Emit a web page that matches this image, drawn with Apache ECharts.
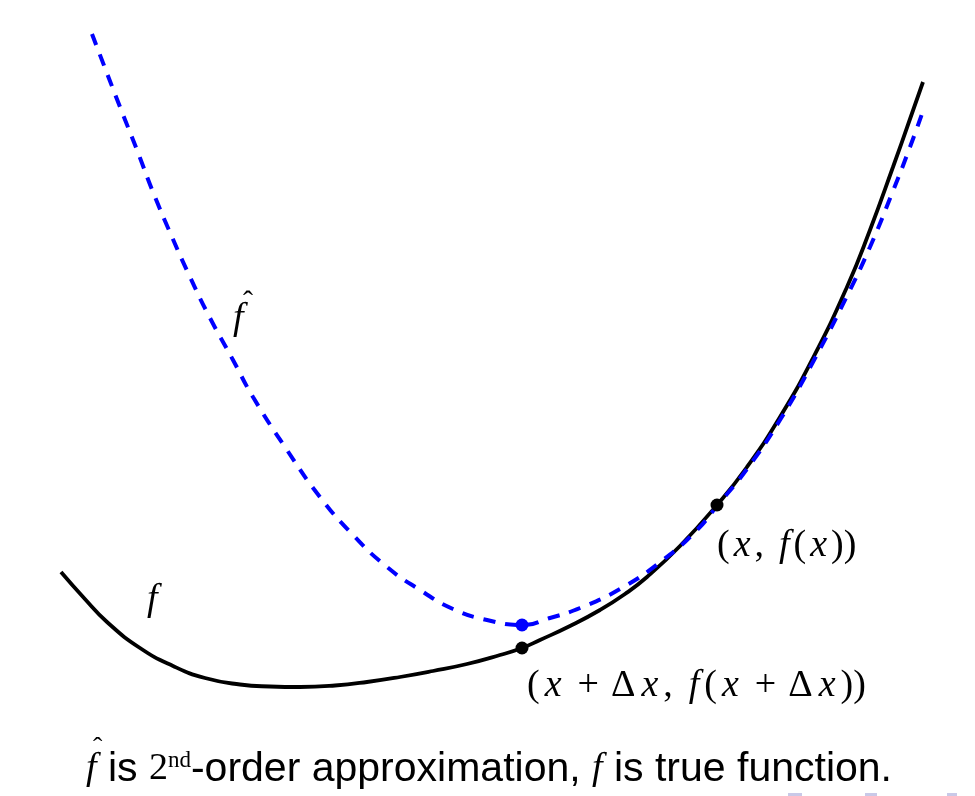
<!DOCTYPE html>
<html lang="en">
<head>
    <meta charset="UTF-8">
    <title>2nd-order approximation</title>
    <style>
        html, body { margin: 0; padding: 0; background: #ffffff; }
        #container { width: 975px; height: 796px; }
    </style>
</head>
<body>
    <div id="container"></div>
    <script src="https://cdn.jsdelivr.net/npm/echarts@6/dist/echarts.min.js"></script>
    <script>
        // true function f (x, y), y grows downward
        var fTrue = [
            [61, 572], [84, 598], [107, 622], [140, 648], [173, 666], [205, 678],
            [240, 684.5], [270, 686.5], [300, 687], [335, 685.5], [367, 682], [400, 677],
            [433, 671], [467, 664], [500, 655], [522, 648], [540, 640], [570, 626],
            [600, 610], [625, 594], [647, 577], [680, 546], [717, 505], [747, 467],
            [780, 417], [813, 358], [847, 287], [870, 230], [893, 167], [910, 119],
            [923, 82]
        ];
        // 2nd-order approximation f-hat
        var fHat = [
            [92, 34], [120, 107], [137, 150], [153, 192], [172, 237], [190, 277],
            [210, 318], [233, 360], [253, 397], [287, 450], [320, 497], [353, 535],
            [387, 567], [420, 590], [453, 609], [487, 620], [522, 625], [550, 618],
            [580, 608], [620, 589], [663, 560], [697, 530], [717, 506], [747, 469],
            [780, 420], [813, 362], [847, 296], [870, 247], [893, 191], [910, 147],
            [923, 111]
        ];
        var blackPts = [[522, 648], [717, 505]];
        var bluePts = [[522, 625]];

        var chart = echarts.init(document.getElementById('container'));

        var serif = 'Liberation Serif';
        var sans = 'Liberation Sans';

        function mathRich(ipad, opad) {
            return {
                r: { font: '38px ' + serif, fill: '#000' },
                d: { font: '38px ' + serif, fill: '#000', padding: [0, 1, 0, 1] },
                i: { font: 'italic 38px ' + serif, fill: '#000', padding: [0, ipad, 0, ipad] },
                op: { font: '38px ' + serif, fill: '#000', padding: [0, opad, 0, opad] },
                c: { font: '38px ' + serif, fill: '#000', padding: [0, 11, 0, 0] }
            };
        }

        var option = {
            backgroundColor: '#ffffff',
            animation: false,
            grid: { left: 0, right: 0, top: 0, bottom: 0 },
            xAxis: { type: 'value', min: 0, max: 975, show: false },
            yAxis: { type: 'value', min: 0, max: 796, inverse: true, show: false },
            series: [{
                name: 'f',
                type: 'line',
                data: fTrue,
                smooth: 0.5,
                symbol: 'none',
                lineStyle: { color: '#000000', width: 3.8 },
                z: 2
            }, {
                name: 'fhat',
                type: 'line',
                data: fHat,
                smooth: 0.5,
                symbol: 'none',
                lineStyle: { color: '#0000ff', width: 4, type: [12, 10] },
                z: 3
            }, {
                name: 'pts',
                type: 'scatter',
                data: blackPts,
                symbolSize: 13,
                itemStyle: { color: '#000000', opacity: 1 },
                z: 4
            }, {
                name: 'ptsHat',
                type: 'scatter',
                data: bluePts,
                symbolSize: 13,
                itemStyle: { color: '#0000ff', opacity: 1 },
                z: 4
            }],
            graphic: [
                // f-hat label
                { type: 'text', left: 233, top: 300, style: { text: 'f', font: 'italic 38px ' + serif, fill: '#000' } },
                { type: 'text', left: 243, top: 288, style: { text: 'ˆ', font: '30px ' + serif, fill: '#000' } },
                // f label
                { type: 'text', left: 147, top: 581, style: { text: 'f', font: 'italic 38px ' + serif, fill: '#000' } },
                // (x, f(x))
                {
                    type: 'text', left: 717, top: 527,
                    style: {
                        text: '{r|(}{i|x}{c|,}{i|f}{r|(}{i|x}{r|))}',
                        rich: mathRich(4, 9)
                    }
                },
                // (x + dx, f(x + dx))
                {
                    type: 'text', left: 527, top: 667,
                    style: {
                        text: '{r|(}{i|x}{op|+}{d|Δ}{i|x}{c|,}{i|f}{r|(}{i|x}{op|+}{d|Δ}{i|x}{r|))}',
                        rich: mathRich(5, 11)
                    }
                },
                // caption
                {
                    type: 'text', left: 86, top: 749,
                    style: {
                        text: '{i|f}{s| is }{r|2}{sup|nd}{s|-order approximation, }{i|f}{s| is true function.}',
                        rich: {
                            i: { font: 'italic 38px ' + serif, fill: '#000' },
                            r: { font: '38px ' + serif, fill: '#000' },
                            sup: { font: '23px ' + serif, fill: '#000', padding: [0, 0, 18, 0] },
                            s: { font: '41px ' + sans, fill: '#000' }
                        }
                    }
                },
                { type: 'text', left: 93, top: 735, style: { text: 'ˆ', font: '28px ' + serif, fill: '#000' } },
                // beamer navigation marks
                { type: 'rect', shape: { x: 788, y: 793, width: 14, height: 3 }, style: { fill: '#c9c9e8' } },
                { type: 'rect', shape: { x: 865, y: 793, width: 12, height: 3 }, style: { fill: '#c9c9e8' } },
                { type: 'rect', shape: { x: 947, y: 793, width: 10, height: 3 }, style: { fill: '#c9c9e8' } }
            ]
        };
        chart.setOption(option);
    </script>
</body>
</html>
